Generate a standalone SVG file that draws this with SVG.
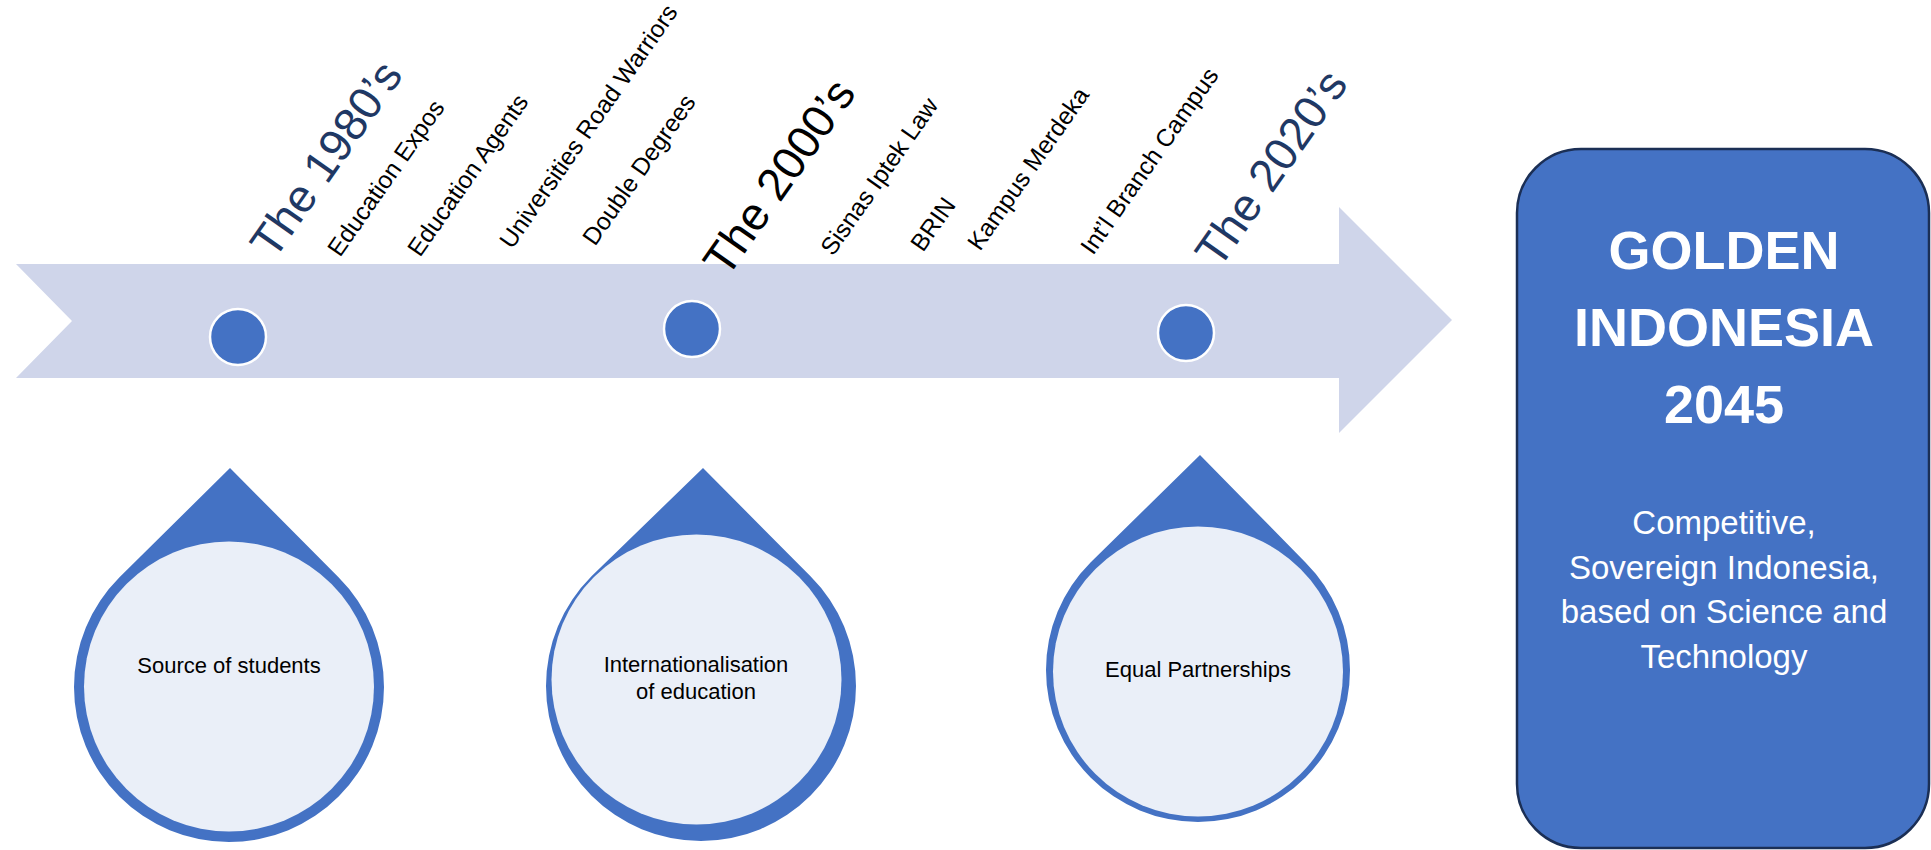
<svg xmlns="http://www.w3.org/2000/svg" width="1931" height="850" viewBox="0 0 1931 850">
  <style>
    text { font-family: "Liberation Sans", Arial, sans-serif; }
    .decade { font-size: 46px; }
    .navy { fill: #1F3864; }
    .black { fill: #000000; }
    .event { font-size: 24.5px; fill: #000000; }
    .dot { fill: #4472C4; stroke: #FFFFFF; stroke-width: 2.5; }
    .drop { fill: #4472C4; }
    .drop-inner { fill: #EAEFF8; }
    .drop-text { font-size: 22px; fill: #000000; text-anchor: middle; }
    .goal-box { fill: #4472C4; stroke: #1B2F55; stroke-width: 2.5; }
    .goal-title { font-size: 54px; font-weight: bold; fill: #FFFFFF; text-anchor: middle; }
    .goal-body { font-size: 33px; fill: #FFFFFF; text-anchor: middle; }
  </style>

  <g id="timeline">
    <polygon points="16,264 1339,264 1339,207 1452,320 1339,433 1339,378 16,378 72,321" fill="#CFD5EA"/>
  </g>

  <g id="connectors"></g>

  <g id="dot-1980s"><circle class="dot" cx="238" cy="337" r="28"/></g>
  <g id="dot-2000s"><circle class="dot" cx="692" cy="329" r="28"/></g>
  <g id="dot-2020s"><circle class="dot" cx="1186" cy="333" r="28"/></g>

  <g id="label-1980s">
    <text class="decade navy" x="274" y="261" transform="rotate(-55 274 261)">The 1980’s</text>
  </g>
  <g id="label-2000s">
    <text class="decade black" x="727" y="279" transform="rotate(-55 727 279)">The 2000’s</text>
  </g>
  <g id="label-2020s">
    <text class="decade navy" x="1219" y="270" transform="rotate(-55 1219 270)">The 2020’s</text>
  </g>

  <g id="event-education-expos">
    <text class="event" x="340" y="258" transform="rotate(-55 340 258)">Education Expos</text>
  </g>
  <g id="event-education-agents">
    <text class="event" x="420" y="258" transform="rotate(-55 420 258)">Education Agents</text>
  </g>
  <g id="event-road-warriors">
    <text class="event" x="512" y="250" transform="rotate(-55 512 250)">Universities Road Warriors</text>
  </g>
  <g id="event-double-degrees">
    <text class="event" x="595" y="247" transform="rotate(-55 595 247)">Double Degrees</text>
  </g>
  <g id="event-sisnas">
    <text class="event" x="833" y="257" transform="rotate(-55 833 257)">Sisnas Iptek Law</text>
  </g>
  <g id="event-brin">
    <text class="event" x="923" y="253" transform="rotate(-55 923 253)">BRIN</text>
  </g>
  <g id="event-kampus-merdeka">
    <text class="event" x="980" y="252" transform="rotate(-55 980 252)">Kampus Merdeka</text>
  </g>
  <g id="event-branch-campus">
    <text class="event" x="1093" y="256" transform="rotate(-55 1093 256)">Int’l Branch Campus</text>
  </g>

  <g id="drop-source">
    <path class="drop" d="M230,468 L338.5,577.3 A155,155 0 1 1 119.5,577.3 Z"/>
    <circle class="drop-inner" cx="229" cy="686.5" r="145"/>
    <text class="drop-text" x="229" y="673">Source of students</text>
  </g>

  <g id="drop-internationalisation">
    <path class="drop" d="M703,468 L810.5,576.3 A155,155 0 1 1 591.5,576.3 Z"/>
    <circle class="drop-inner" cx="696.5" cy="679.5" r="145"/>
    <text class="drop-text" x="696" y="672">Internationalisation</text>
    <text class="drop-text" x="696" y="699">of education</text>
  </g>

  <g id="drop-partnerships">
    <path class="drop" d="M1200,455 L1305.5,562.5 A152,152 0 1 1 1090.5,562.5 Z"/>
    <circle class="drop-inner" cx="1198" cy="671.5" r="145"/>
    <text class="drop-text" x="1198" y="677">Equal Partnerships</text>
  </g>

  <g id="goal">
    <rect class="goal-box" x="1517" y="149" width="412" height="699" rx="64" ry="64"/>
    <text class="goal-title" x="1724" y="269">GOLDEN</text>
    <text class="goal-title" x="1724" y="346">INDONESIA</text>
    <text class="goal-title" x="1724" y="423">2045</text>
    <text class="goal-body" x="1724" y="534">Competitive,</text>
    <text class="goal-body" x="1724" y="578.5">Sovereign Indonesia,</text>
    <text class="goal-body" x="1724" y="623">based on Science and</text>
    <text class="goal-body" x="1724" y="667.5">Technology</text>
  </g>
</svg>
